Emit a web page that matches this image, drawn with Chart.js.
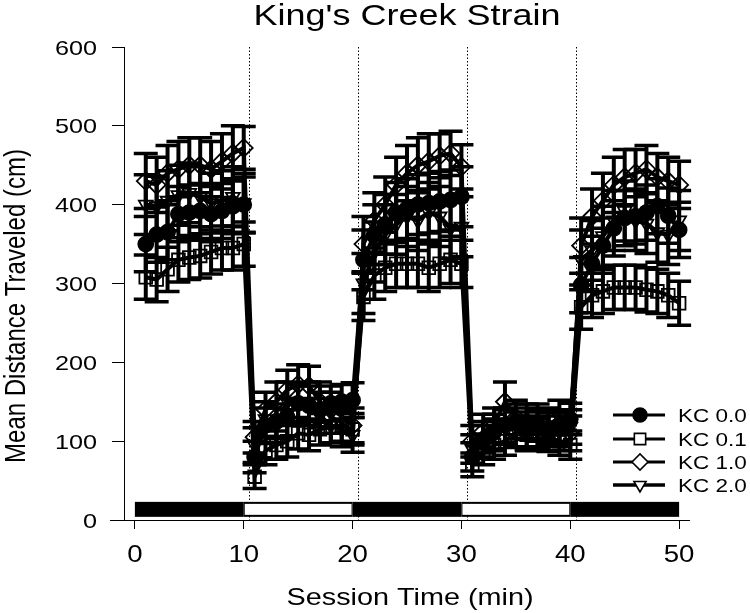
<!DOCTYPE html>
<html><head><meta charset="utf-8">
<style>html,body{margin:0;padding:0;background:#fff}#wrap{width:750px;height:613px}</style>
<script src="https://cdn.jsdelivr.net/npm/chart.js@4/dist/chart.umd.min.js"></script>
</head><body><div id="wrap"><canvas id="c" width="750" height="613"></canvas></div>
<script>
// ---------- DATA ----------
const minutes = [1,2,3,4,5,6,7,8,9,10,11,12,13,14,15,16,17,18,19,20,21,22,23,24,25,26,27,28,29,30,31,32,33,34,35,36,37,38,39,40,41,42,43,44,45,46,47,48,49,50];
const seriesLabels = ['KC 0.0','KC 0.1','KC 1.0','KC 2.0'];
const kc00 = [350,362,365,388,390,392,388,392,398,400, 80,120,125,130,148,145,140,148,150,152, 330,362,375,390,395,400,402,404,406,410, 80,100,112,120,125,122,120,116,120,128, 298,325,348,370,383,385,390,398,386,368];
const kc01 = [308,305,318,330,333,335,340,345,345,350, 55,88,95,100,110,108,115,118,120,115, 283,310,320,325,325,325,320,325,330,325, 70,85,95,100,110,108,110,105,100,95, 270,285,290,295,295,295,292,290,285,275];
const kc10 = [430,425,440,445,450,450,445,455,465,472, 105,140,150,165,172,170,150,140,132,120, 350,380,400,425,440,450,455,462,465,448, 100,112,120,150,130,125,115,110,115,110, 348,385,405,425,435,440,445,435,430,425];
const kc20 = [400,398,405,412,415,410,402,405,410,402, 95,128,120,150,148,150,132,120,115,108, 300,340,362,375,385,380,390,385,370,372, 90,105,108,118,115,110,125,120,130,118, 330,342,360,380,392,380,376,365,362,380];
const err00 = [35,35,35,35,35,35,35,35,35,35, 20,22,22,24,25,25,22,22,22,22, 38,38,38,38,38,38,38,38,38,38, 18,20,22,22,22,20,20,20,20,20, 35,35,35,35,35,35,35,35,35,35];
const err01 = [28,28,28,28,28,28,28,28,28,28, 15,18,18,20,20,20,20,20,20,20, 30,30,30,30,30,30,30,30,30,30, 15,15,18,18,18,18,18,18,18,18, 28,28,28,28,28,28,28,28,28,28];
const err10 = [35,35,35,35,35,35,35,35,35,27, 20,22,25,25,25,25,25,22,22,22, 35,35,35,35,35,35,35,28,28,28, 20,22,22,25,22,22,22,22,22,22, 35,35,35,35,35,30,30,30,30,30];
const err20 = [38,38,38,38,38,38,38,38,38,38, 22,22,22,25,25,25,22,22,22,22, 38,38,38,38,38,38,38,38,38,38, 18,20,20,22,22,22,22,22,22,22, 38,38,38,38,38,38,38,38,38,38];
const xTickValues = [0,10,20,30,40,50];
const xTickLabels = ['0','10','20','30','40','50'];
const yTickValues = [0,100,200,300,400,500,600];
const yTickLabels = ['0','100','200','300','400','500','600'];
const phaseStarts = [0,10,20,30,40];
const phaseEnds = [10,20,30,40,50];
const phaseDark = [true,false,true,false,true];
const phaseBoundaries = [10.5,20.5,30.5,40.5];
const chartTitle = "King's Creek Strain";
const xTitle = 'Session Time (min)';
const yTitle = 'Mean Distance Traveled (cm)';

// ---------- CHART ----------
const values = [kc00, kc01, kc10, kc20];
const errors = [err00, err01, err10, err20];
const styles = [
  {pointStyle:'circle', r:7.5, rot:0, fill:'#000', lw:4},
  {pointStyle:'rect', r:9, rot:0, fill:'rgba(0,0,0,0)', lw:4},
  {pointStyle:'rectRot', r:9, rot:0, fill:'rgba(0,0,0,0)', lw:4},
  {pointStyle:'triangle', r:8, rot:180, fill:'rgba(0,0,0,0)', lw:4.5}
];
const FONT = '"Liberation Sans", Arial, sans-serif';
const SX = 1.2;

function stretchedText(ctx, text, x, y, size, align, baseline, sx) {
  ctx.save();
  ctx.translate(x, y);
  ctx.scale(sx, 1);
  ctx.font = size + 'px ' + FONT;
  ctx.textAlign = align;
  ctx.textBaseline = baseline;
  ctx.fillStyle = '#000';
  ctx.fillText(text, 0, 0);
  ctx.restore();
}

function drawMarker(ctx, st, x, y, r, fill) {
  ctx.save();
  ctx.beginPath();
  if (st.pointStyle === 'circle') {
    ctx.arc(x, y, r, 0, Math.PI * 2);
  } else if (st.pointStyle === 'rect') {
    const s = r * Math.SQRT1_2;
    ctx.rect(x - s, y - s, 2 * s, 2 * s);
  } else if (st.pointStyle === 'rectRot') {
    ctx.moveTo(x - r, y); ctx.lineTo(x, y - r); ctx.lineTo(x + r, y); ctx.lineTo(x, y + r); ctx.closePath();
  } else {
    ctx.moveTo(x, y + r);
    ctx.lineTo(x - r * 0.866, y - r * 0.5);
    ctx.lineTo(x + r * 0.866, y - r * 0.5);
    ctx.closePath();
  }
  ctx.fillStyle = fill;
  ctx.fill();
  ctx.lineWidth = 1.6;
  ctx.strokeStyle = '#000';
  ctx.stroke();
  ctx.restore();
}

const decor = {
  id: 'decor',
  beforeDatasetsDraw(chart) {
    const ctx = chart.ctx, xs = chart.scales.x, ys = chart.scales.y;
    // dotted boundaries
    ctx.save();
    ctx.strokeStyle = '#000';
    ctx.lineWidth = 1;
    ctx.setLineDash([1.5, 2]);
    phaseBoundaries.forEach(b => {
      const px = Math.round(xs.getPixelForValue(b)) + 0.5;
      ctx.beginPath();
      ctx.moveTo(px, ys.getPixelForValue(600));
      ctx.lineTo(px, ys.getPixelForValue(0) + 3);
      ctx.stroke();
    });
    ctx.restore();
    // phase bar
    ctx.save();
    const yT = ys.getPixelForValue(23), yB = ys.getPixelForValue(4);
    phaseStarts.forEach((s, i) => {
      const x0 = xs.getPixelForValue(s), x1 = xs.getPixelForValue(phaseEnds[i]);
      ctx.fillStyle = '#000';
      ctx.fillRect(x0, yT, x1 - x0, yB - yT);
      if (!phaseDark[i]) {
        ctx.fillStyle = '#fff';
        ctx.fillRect(x0 + 1, yT + 2, x1 - x0 - 2, yB - yT - 4);
      }
    });
    ctx.restore();
    // error bars
    ctx.save();
    ctx.strokeStyle = '#000';
    chart.data.datasets.forEach((ds, i) => {
      const meta = chart.getDatasetMeta(i);
      meta.data.forEach((pt, j) => {
        const v = values[i][j], e = errors[i][j];
        const yt = ys.getPixelForValue(v + e), yb = ys.getPixelForValue(v - e);
        ctx.lineWidth = 4;
        ctx.beginPath(); ctx.moveTo(pt.x, yt); ctx.lineTo(pt.x, yb); ctx.stroke();
        ctx.lineWidth = 3.5;
        ctx.beginPath();
        ctx.moveTo(pt.x - 12, yt); ctx.lineTo(pt.x + 12, yt);
        ctx.moveTo(pt.x - 12, yb); ctx.lineTo(pt.x + 12, yb);
        ctx.stroke();
      });
    });
    ctx.restore();
  },
  afterDraw(chart) {
    const ctx = chart.ctx, xs = chart.scales.x, ys = chart.scales.y;
    const area = chart.chartArea;
    // x axis line extended to the left
    ctx.save();
    ctx.strokeStyle = '#000';
    ctx.lineWidth = 1;
    const ay = Math.round(ys.getPixelForValue(0)) + 0.5;
    ctx.beginPath(); ctx.moveTo(110, ay); ctx.lineTo(area.right, ay); ctx.stroke();
    ctx.restore();
    // tick labels
    xTickValues.forEach((v, i) => {
      stretchedText(ctx, xTickLabels[i], xs.getPixelForValue(v), 562, 23, 'center', 'alphabetic', SX);
    });
    yTickValues.forEach((v, i) => {
      stretchedText(ctx, yTickLabels[i], 97, ys.getPixelForValue(v) + 7.5, 21, 'right', 'alphabetic', SX);
    });
    // titles
    stretchedText(ctx, chartTitle, 407, 25, 30, 'center', 'alphabetic', SX);
    stretchedText(ctx, xTitle, 410, 605, 24, 'center', 'alphabetic', SX);
    ctx.save();
    ctx.translate(25, 306);
    ctx.scale(SX, 1);
    ctx.rotate(-Math.PI / 2);
    ctx.font = '24px ' + FONT;
    ctx.textAlign = 'center';
    ctx.textBaseline = 'alphabetic';
    ctx.fillStyle = '#000';
    ctx.fillText(yTitle, 0, 0);
    ctx.restore();
    // legend
    const rows = [415, 439, 462, 485];
    chart.data.datasets.forEach((ds, i) => {
      const y = rows[i];
      ctx.save();
      ctx.strokeStyle = '#000';
      ctx.lineWidth = styles[i].lw - 1;
      ctx.beginPath(); ctx.moveTo(613, y); ctx.lineTo(665, y); ctx.stroke();
      ctx.restore();
      drawMarker(ctx, styles[i], 640, y, i === 0 ? 7 : (i === 1 ? 8 : (i === 2 ? 8 : 7)), i === 0 ? '#000' : '#fff');
      stretchedText(ctx, ds.label, 678, y + 6.5, 18, 'left', 'alphabetic', 1.25);
    });
  }
};

const datasets = values.map((vals, i) => ({
  label: seriesLabels[i],
  data: minutes.map((m, j) => ({x: m, y: vals[j]})),
  borderColor: '#000',
  borderWidth: styles[i].lw,
  pointStyle: styles[i].pointStyle,
  pointRadius: styles[i].r,
  pointRotation: styles[i].rot,
  pointBackgroundColor: styles[i].fill,
  pointBorderColor: '#000',
  pointBorderWidth: 1.8,
  tension: 0,
  fill: false
}));

new Chart(document.getElementById('c'), {
  type: 'line',
  data: { datasets },
  options: {
    responsive: false,
    animation: false,
    events: [],
    layout: { padding: { top: 47, right: 60, left: 0, bottom: 0 } },
    plugins: { legend: { display: false }, title: { display: false }, tooltip: { enabled: false } },
    scales: {
      x: {
        type: 'linear', min: -1, max: 51,
        afterBuildTicks: s => { s.ticks = xTickValues.map(v => ({ value: v })); },
        afterFit: s => { s.height = 93; s.paddingLeft = 0; s.paddingRight = 0; },
        grid: { drawOnChartArea: false, drawTicks: true, tickLength: 9, color: '#000', lineWidth: 1 },
        border: { display: false },
        ticks: { display: true, color: 'rgba(0,0,0,0)', font: { size: 1 }, padding: 0 }
      },
      y: {
        type: 'linear', min: 0, max: 600,
        afterBuildTicks: s => { s.ticks = yTickValues.map(v => ({ value: v })); },
        afterFit: s => { s.width = 124; s.paddingTop = 0; s.paddingBottom = 0; },
        grid: { drawOnChartArea: false, drawTicks: true, tickLength: 12, color: '#000', lineWidth: 1 },
        border: { display: true, color: '#000', width: 1 },
        ticks: { display: true, color: 'rgba(0,0,0,0)', font: { size: 1 }, padding: 0 }
      }
    }
  },
  plugins: [decor]
});
</script>
</body></html>
